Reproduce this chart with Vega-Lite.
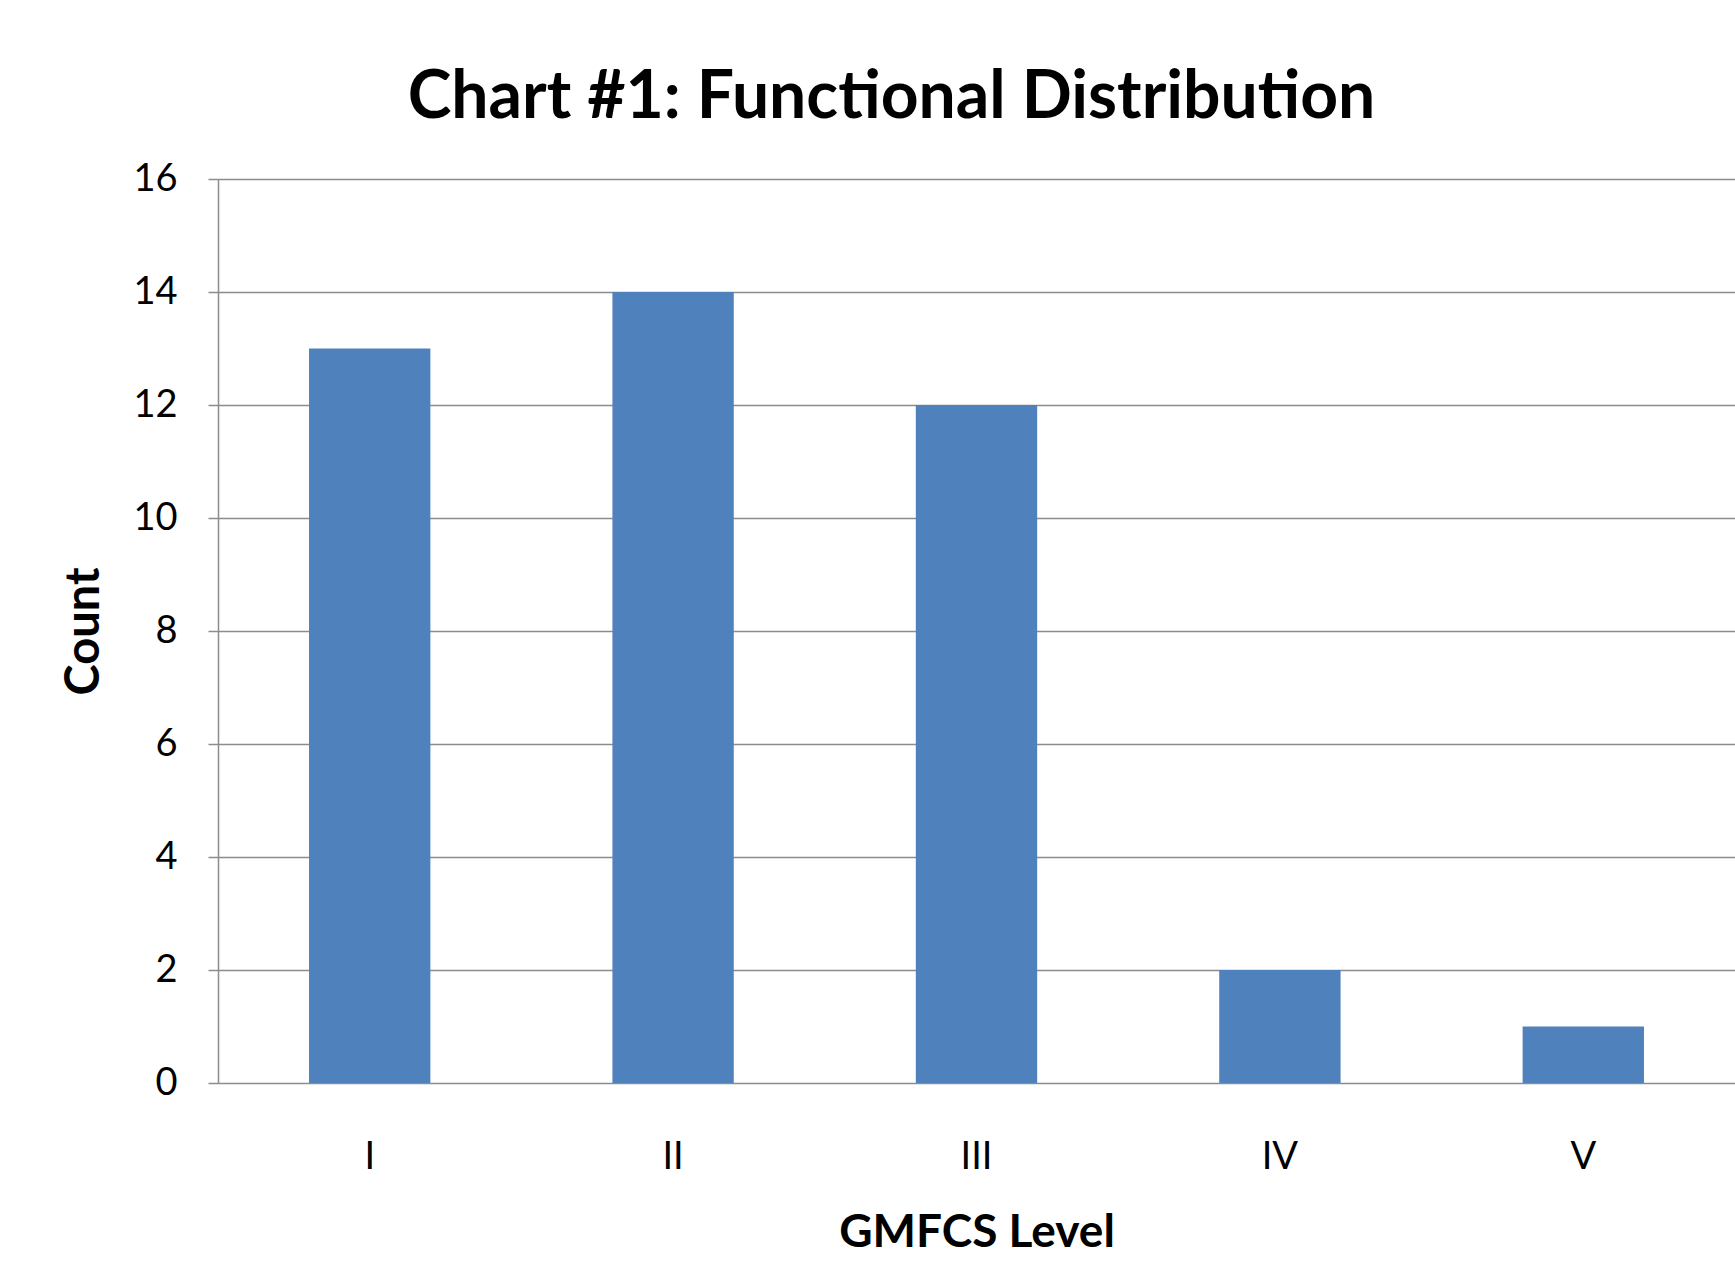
{
  "$schema": "https://vega.github.io/schema/vega-lite/v6.json",
  "autosize": {"type": "none"},
  "padding": {"left": 218, "top": 179, "right": 0, "bottom": 197},
  "width": 1517,
  "height": 904,
  "background": "white",
  "title": {
    "text": "Chart #1: Functional Distribution",
    "font": "Lato",
    "fontSize": 66,
    "fontWeight": "bold",
    "color": "#000000",
    "anchor": "middle",
    "dx": -85,
    "baseline": "alphabetic",
    "offset": -24
  },
  "data": {
    "values": [
      {"level": "I", "count": 13},
      {"level": "II", "count": 14},
      {"level": "III", "count": 12},
      {"level": "IV", "count": 2},
      {"level": "V", "count": 1}
    ]
  },
  "mark": {"type": "bar", "color": "#4F81BD"},
  "encoding": {
    "x": {
      "field": "level",
      "type": "nominal",
      "sort": null,
      "scale": {"paddingInner": 0.6, "paddingOuter": 0.3},
      "axis": {
        "title": "GMFCS Level",
        "labelAngle": 0,
        "labelFont": "Lato",
        "labelFontSize": 38,
        "labelColor": "#000000",
        "labelBaseline": "middle",
        "labelPadding": 74,
        "ticks": false,
        "tickSize": 0,
        "domain": false,
        "titleFont": "Lato",
        "titleFontSize": 46,
        "titleFontWeight": "bold",
        "titleColor": "#000000",
        "titleBaseline": "middle",
        "titleY": 149
      }
    },
    "y": {
      "field": "count",
      "type": "quantitative",
      "scale": {"domain": [0, 16], "nice": false},
      "axis": {
        "title": "Count",
        "values": [0, 2, 4, 6, 8, 10, 12, 14, 16],
        "grid": true,
        "gridColor": "#8c8c8c",
        "gridWidth": 1.5,
        "domainColor": "#8c8c8c",
        "domainWidth": 1.5,
        "tickColor": "#8c8c8c",
        "tickWidth": 1.5,
        "tickSize": 10,
        "labelFont": "Lato",
        "labelFontSize": 38,
        "labelColor": "#000000",
        "labelPadding": 31,
        "labelBaseline": "middle",
        "titleFont": "Lato",
        "titleFontSize": 47,
        "titleFontWeight": "bold",
        "titleColor": "#000000",
        "titleAngle": -90,
        "titleX": -134,
        "titleY": 452,
        "titleAlign": "center",
        "titleBaseline": "middle"
      }
    }
  },
  "config": {
    "view": {"stroke": null}
  }
}
